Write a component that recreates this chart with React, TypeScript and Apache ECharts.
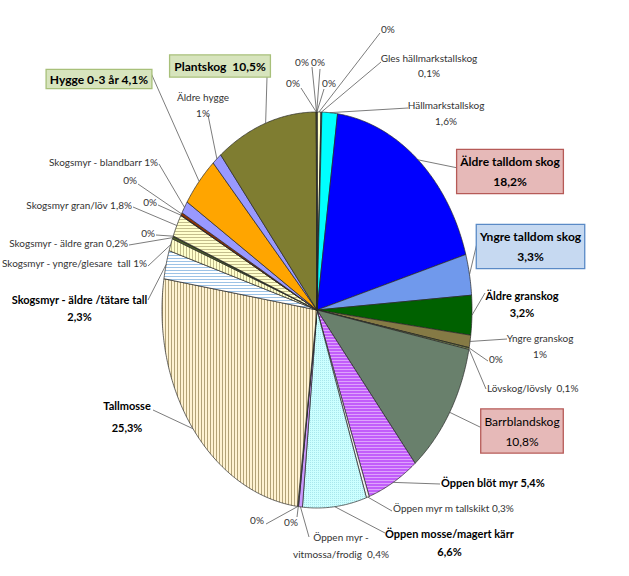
import React, { useEffect, useRef } from 'react';
import * as echarts from 'echarts';

// Slices in drawing order (clockwise from 12 o'clock)
const categories = [
  'Okänd 1', 'Gles hällmarkstallskog', 'Hällmarkstallskog', 'Äldre talldom skog', 'Yngre talldom skog',
  'Äldre granskog', 'Yngre granskog', 'Okänd 2', 'Lövskog/lövsly', 'Barrblandskog',
  'Öppen blöt myr', 'Öppen myr m tallskikt', 'Öppen mosse/magert kärr', 'Öppen myr - vitmossa/frodig', 'Okänd 3',
  'Okänd 4', 'Tallmosse', 'Skogsmyr - äldre /tätare tall', 'Skogsmyr - yngre/glesare tall', 'Skogsmyr - äldre gran',
  'Okänd 5', 'Skogsmyr gran/löv', 'Okänd 6', 'Okänd 7', 'Skogsmyr - blandbarr',
  'Hygge 0-3 år', 'Äldre hygge', 'Plantskog', 'Okänd 8', 'Okänd 9', 'Okänd 10', 'Okänd 11',
];

const values = [
  0.4, 0.1, 1.6, 18.2, 3.3,
  3.2, 1.0, 0.05, 0.1, 10.8,
  5.4, 0.3, 6.6, 0.4, 0.05,
  0.05, 25.3, 2.3, 1.0, 0.2,
  0.05, 1.8, 0.05, 0.2, 1.0,
  4.1, 1.0, 10.5, 0.02, 0.02, 0.02, 0.02,
];

const labelTexts = [
  '0%', 'Gles hällmarkstallskog\n0,1%', 'Hällmarkstallskog\n1,6%', 'Äldre talldom skog\n18,2%', 'Yngre talldom skog\n3,3%',
  'Äldre granskog\n3,2%', 'Yngre granskog\n1%', '0%', 'Lövskog/lövsly  0,1%', 'Barrblandskog\n10,8%',
  'Öppen blöt myr 5,4%', 'Öppen myr m tallskikt 0,3%', 'Öppen mosse/magert kärr\n6,6%', 'Öppen myr -\nvitmossa/frodig  0,4%', '0%',
  '0%', 'Tallmosse\n25,3%', 'Skogsmyr - äldre /tätare tall\n2,3%', 'Skogsmyr - yngre/glesare  tall 1%', 'Skogsmyr - äldre gran 0,2%',
  '0%', 'Skogsmyr gran/löv 1,8%', '0%', '0%', 'Skogsmyr - blandbarr 1%',
  'Hygge 0-3 år 4,1%', 'Äldre hygge\n1%', 'Plantskog  10,5%', '0%', '0%', '0%', '0%',
];

// Slice fills (string colour or pattern key)
const sliceFills = [
  '#FFFFCC', '#404040', '#00FFFF', '#0000FF', '#7099EC',
  '#006100', '#857A45', '#99CC00', '#C8E07A', '#69806C',
  'p:blot', '#F2F2F2', 'p:mosse', '#CC99FF', '#FFFFFF',
  '#FFFFFF', 'p:tallmosse', 'p:aldretall', 'p:yngretall', '#4F6228',
  '#333333', 'p:granlov', '#333333', '#993300', '#9999FF',
  '#FFA500', '#9999FF', '#7F7D31', '#FFFF99', '#FFFF99', '#FFFF99', '#FFFF99',
];

// Label layout: text anchor (tx, ty), alignment, leader-line end (lx, ly), style kind, line height
type Lay = [number, number, string, number, number, string, number?];
const labelLayout: Lay[] = [
  [381, 29, 'left', 380, 33, 'n'],
  [429, 65.5, 'center', 381, 62, 'n', 15],
  [446, 113, 'center', 408, 108, 'n'],
  [510, 171.5, 'center', 458, 168, 'red'],
  [530.5, 246.5, 'center', 477, 243, 'blue'],
  [522, 303.5, 'center', 485, 293, 'b', 17],
  [540, 346, 'center', 507, 339, 'n'],
  [489, 359, 'left', 488, 361, 'n'],
  [487, 388, 'left', 486, 389, 'n'],
  [522, 431, 'center', 482, 428, 'redn'],
  [441, 482, 'left', 440, 484, 'b'],
  [393, 508, 'left', 392, 511, 'n'],
  [449.5, 542, 'center', 385, 533, 'b', 18],
  [341, 545.5, 'center', 309, 537, 'n', 17],
  [291, 522, 'center', 297, 517, 'n'],
  [257, 520, 'center', 266, 524, 'n'],
  [127, 416, 'center', 153, 410, 'b', 22],
  [79.5, 307.5, 'center', 148, 300, 'b', 17],
  [147, 263, 'right', 148, 266, 'n'],
  [128, 243, 'right', 129, 245, 'n'],
  [155, 233, 'right', 156, 235, 'n'],
  [132, 205, 'right', 133, 207, 'n'],
  [157, 202, 'right', 158, 205, 'n'],
  [137, 180, 'right', 138, 184, 'n'],
  [158, 162, 'right', 159, 164, 'n'],
  [99, 79, 'center', 151, 73, 'green'],
  [203, 105, 'center', 208, 115, 'n'],
  [220, 66, 'center', 267, 77, 'green2'],
  [293, 83, 'center', 301, 88, 'n'],
  [302, 62, 'center', 312, 67, 'n'],
  [318, 62, 'center', 320, 69, 'n'],
  [329, 83, 'center', 324, 89, 'n'],
];

const CX = 317;
const CY = 310;
const RX = 155;
const RY = 198;

function makePattern(base: string, line: string, size: number, dir: string, lw = 1) {
  const c = document.createElement('canvas');
  c.width = size;
  c.height = size;
  const g = c.getContext('2d')!;
  g.fillStyle = base;
  g.fillRect(0, 0, size, size);
  g.fillStyle = line;
  if (dir === 'h') g.fillRect(0, 0, size, lw);
  else if (dir === 'v') g.fillRect(0, 0, lw, size);
  else g.fillRect(0, 0, 1, 1);
  return { image: c, repeat: 'repeat' };
}

function textStyle(kind: string, text: string, align: string, lh?: number): any {
  const base: any = {
    text,
    align,
    verticalAlign: 'middle',
    fontFamily: 'Lato',
    fill: '#333',
    fontSize: 10,
    lineHeight: lh || 16,
  };
  if (kind === 'b') {
    base.fontWeight = 'bold';
    base.fontSize = 11;
    base.fill = '#000';
    base.lineHeight = lh || 17;
  } else if (kind === 'red' || kind === 'blue') {
    base.fontWeight = 'bold';
    base.fontSize = 12;
    base.fill = '#000';
    base.lineHeight = 20;
    base.backgroundColor = kind === 'red' ? '#E6B9B8' : '#C6D9F1';
    base.borderColor = kind === 'red' ? '#B65A57' : '#5A8AC6';
    base.borderWidth = 1.3;
    base.padding = [2, 3, 1, 3];
  } else if (kind === 'redn') {
    base.fontSize = 12;
    base.fill = '#000';
    base.lineHeight = 20;
    base.backgroundColor = '#E6B9B8';
    base.borderColor = '#B65A57';
    base.borderWidth = 1.3;
    base.padding = [2, 3, 1, 3];
  } else if (kind === 'green' || kind === 'green2') {
    base.fontWeight = 'bold';
    base.fontSize = 12;
    base.fill = '#000';
    base.lineHeight = kind === 'green' ? 17 : 18;
    base.backgroundColor = '#D7E4BD';
    base.borderColor = '#A8C07A';
    base.borderWidth = 1.3;
    base.padding = kind === 'green' ? [1, 3, 0, 3] : [2, 4, 1, 4];
  }
  return base;
}

export default function App() {
  const ref = useRef<HTMLDivElement>(null);

  useEffect(() => {
    if (!ref.current) return;
    const chart = echarts.init(ref.current, null, { renderer: 'svg' });

    const patterns: Record<string, any> = {
      blot: makePattern('#C25EFA', '#DEA3FC', 3, 'h', 1),
      mosse: makePattern('#CCFFFF', '#A9E6EC', 2, 'd'),
      tallmosse: makePattern('#FFF3D2', '#B3A378', 3, 'v'),
      aldretall: makePattern('#FFFFFF', '#9DC3E6', 3, 'h'),
      yngretall: makePattern('#FFFFCC', '#C4BE8C', 3, 'v'),
      granlov: makePattern('#FFFFCC', '#C4BE8C', 3, 'h'),
    };

    const total = values.reduce((a, b) => a + b, 0);
    const cum: number[] = [];
    let acc = 0;
    values.forEach((v) => {
      cum.push(acc);
      acc += v;
    });

    const pt = (t: number) => [CX + RX * Math.sin(t), CY - RY * Math.cos(t)];

    chart.setOption({
      animation: false,
      series: [
        {
          type: 'custom',
          name: 'Naturtyper',
          coordinateSystem: 'none',
          data: values.map((v, i) => ({ name: categories[i], value: [v, i] })),
          renderItem: (params: any, api: any) => {
            const i = params.dataIndex;
            const v = api.value(0);
            const a0 = (cum[i] / total) * Math.PI * 2;
            const a1 = a0 + (v / total) * Math.PI * 2;
            const pts: number[][] = [[CX, CY]];
            const n = Math.max(2, Math.ceil((a1 - a0) / (Math.PI / 360)));
            for (let k = 0; k <= n; k++) pts.push(pt(a0 + ((a1 - a0) * k) / n));
            const e = pt((a0 + a1) / 2);
            const L = labelLayout[i];
            const f = sliceFills[i];
            const fill = f.startsWith('p:') ? patterns[f.slice(2)] : f;
            return {
              type: 'group',
              children: [
                {
                  type: 'polygon',
                  shape: { points: pts },
                  style: { fill, stroke: '#262626', lineWidth: 0.7, lineJoin: 'round' },
                  z2: 0,
                },
                {
                  type: 'polyline',
                  shape: { points: [e, [L[3], L[4]]] },
                  style: { stroke: '#5A5A5A', lineWidth: 0.8, fill: null },
                  z2: 10,
                },
                {
                  type: 'text',
                  x: L[0],
                  y: L[1],
                  style: textStyle(L[5], labelTexts[i], L[2], L[6]),
                  z2: 20,
                },
              ],
            };
          },
        },
      ],
    });

    return () => chart.dispose();
  }, []);

  return (
    <div
      ref={ref}
      style={{ position: 'fixed', left: 0, top: 0, width: 629, height: 576, background: '#fff' }}
    />
  );
}
